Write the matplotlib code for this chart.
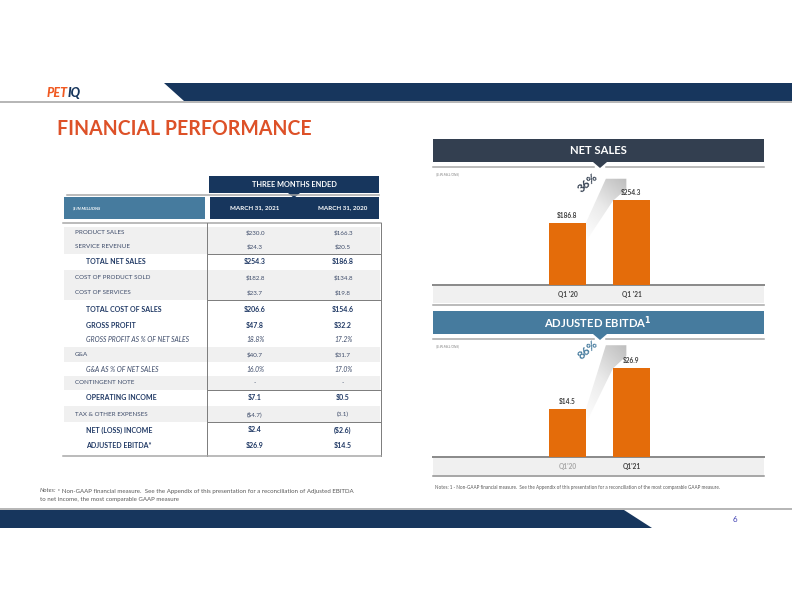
import matplotlib
matplotlib.use("Agg")
import matplotlib.pyplot as plt
import numpy as np
from matplotlib.patches import Polygon, Rectangle
from matplotlib.colors import LinearSegmentedColormap

plt.rcParams["font.family"] = ["Lato", "DejaVu Sans"]

# data
row_labels = ["PRODUCT SALES", "SERVICE REVENUE", "TOTAL NET SALES",
              "COST OF PRODUCT SOLD", "COST OF SERVICES", "TOTAL COST OF SALES",
              "GROSS PROFIT", "GROSS PROFIT AS % OF NET SALES", "G&A",
              "G&A AS % OF NET SALES", "CONTINGENT NOTE", "OPERATING INCOME",
              "TAX & OTHER EXPENSES", "NET (LOSS) INCOME", "ADJUSTED EBITDA*"]
vals_2021 = ["$230.0", "$24.3", "$254.3", "$182.8", "$23.7", "$206.6", "$47.8",
             "18.8%", "$40.7", "16.0%", "-", "$7.1", "($4.7)", "$2.4", "$26.9"]
vals_2020 = ["$166.3", "$20.5", "$186.8", "$134.8", "$19.8", "$154.6", "$32.2",
             "17.2%", "$31.7", "17.0%", "-", "$0.5", "(3.1)", "($2.6)", "$14.5"]
row_style = ["n", "n", "b", "n", "n", "b", "b", "i", "n", "i", "n", "b", "n", "b", "b"]
col_headers = ["MARCH 31, 2021", "MARCH 31, 2020"]

quarters_sales = ["Q1 '20", "Q1 '21"]
net_sales = [186.8, 254.3]
sales_growth = "36%"

quarters_ebitda = ["Q1'20", "Q1'21"]
adj_ebitda = [14.5, 26.9]
ebitda_growth = "86%"

# colours
navy = "#17365D"
steel = "#467B9E"
slate = "#333F50"
orange = "#E46C0A"
title_c = "#DD5128"
txt = "#3E4C6A"
txt_b = "#1F3864"
gray_bg = "#F0F0F0"

W, H = 792, 612
fig = plt.figure(figsize=(W / 72, H / 72), dpi=72)
ax = fig.add_axes([0, 0, 1, 1])
ax.set_xlim(0, W)
ax.set_ylim(H, 0)
ax.axis("off")
renderer = fig.canvas.get_renderer()


def px_axes(x0, y0, x1, y1):
    return fig.add_axes([x0 / W, 1 - y1 / H, (x1 - x0) / W, (y1 - y0) / H])


def text_after(t, s, gap=0, **kw):
    # place s right after text t (pixel axes coords)
    bb = t.get_window_extent(renderer)
    x = ax.transData.inverted().transform((bb.x1, 0))[0] + gap
    return ax.text(x, t.get_position()[1], s, **kw)


# top banner
ax.plot([0, W], [102, 102], color="#A0A0A0", lw=1.5)
ax.add_patch(Polygon([(164, 83), (W, 83), (W, 101), (184, 101)], color=navy, lw=0))
t = ax.text(47, 93, "PET", color="#F05A22", fontsize=12.5, fontweight="black",
            style="italic", va="center")
text_after(t, "IQ", gap=-0.5, color=navy, fontsize=12.5, fontweight="black",
           style="italic", va="center")

ax.text(57, 129, "FINANCIAL PERFORMANCE", color=title_c, fontsize=19.5,
        fontweight="bold", va="center")

# table header
ax.add_patch(Rectangle((209, 176), 170, 17, color=navy, lw=0))
ax.text(294, 184.5, "THREE MONTHS ENDED", color="white", fontsize=7.4,
        fontweight="bold", ha="center", va="center")
ax.plot([67, 379], [194.5, 194.5], color="#A6A6A6", lw=1.5)
ax.add_patch(Polygon([(288, 193), (300, 193), (294, 198)], color=navy, lw=0))
ax.add_patch(Rectangle((64, 197), 141, 22, color=steel, lw=0))
ax.text(73, 208, "$ IN MILLIONS", color="white", fontsize=4.2,
        fontweight="bold", style="italic", va="center")
ax.add_patch(Rectangle((210, 197), 169, 22, color=navy, lw=0))
col_x = [255, 343]
for cx, h in zip(col_x, col_headers):
    ax.text(cx, 208, h, color="white", fontsize=6.2, fontweight="bold",
            ha="center", va="center")
ax.plot([63, 381], [223, 223], color="#A6A6A6", lw=1.5)

# table body
row_edges = [227, 239, 254, 270, 285, 300, 318, 333, 347, 362, 376, 390, 406, 422, 438, 454]
sep_rows = [2, 5, 11, 13]
for i, lab in enumerate(row_labels):
    y0, y1 = row_edges[i], row_edges[i + 1]
    yc = (y0 + y1) / 2
    st = row_style[i]
    if st == "n":
        ax.add_patch(Rectangle((64, y0), 316, y1 - y0, color=gray_bg, lw=0))
    if st == "b":
        kw = dict(fontsize=7.0, fontweight="bold", color=txt_b)
        lx = 86
    elif st == "i":
        kw = dict(fontsize=6.8, style="italic", color=txt)
        lx = 86
    else:
        kw = dict(fontsize=6.3, color=txt)
        lx = 75
    ax.text(lx, yc, lab, va="center", **kw)
    ax.text(col_x[0], yc, vals_2021[i], ha="center", va="center", **kw)
    ax.text(col_x[1], yc, vals_2020[i], ha="center", va="center", **kw)
    if i in sep_rows:
        ax.plot([207, 381], [y0, y0], color="#7F7F7F", lw=1)
ax.plot([207, 207], [223, 456], color="#7F7F7F", lw=1)
ax.plot([381, 381], [223, 456], color="#7F7F7F", lw=1)
ax.plot([63, 381], [456, 456], color="#A6A6A6", lw=1.5)

t = ax.text(40, 491, "Notes:", fontsize=6.1, style="italic", color="#595959", va="center")
text_after(t, " * Non-GAAP financial measure.  See the Appendix of this presentation "
           "for a reconciliation of Adjusted EBITDA", fontsize=6.1, color="#595959",
           va="center")
ax.text(40, 499, "to net income, the most comparable GAAP measure", fontsize=6.1,
        color="#595959", va="center")

# footer
ax.plot([0, W], [509, 509], color="#A0A0A0", lw=1.5)
ax.add_patch(Polygon([(0, 510), (624, 510), (652, 528), (0, 528)], color=navy, lw=0))
ax.text(735, 520, "6", color="#3A3AB0", fontsize=8, ha="center", va="center")


def panel(top, head, head_c):
    ax.add_patch(Rectangle((433, top), 331, 23, color=head_c, lw=0))
    ax.text(598, top + 12, head, color="white", fontsize=11.2, fontweight="bold",
            ha="center", va="center")
    ax.plot([433, 594], [top + 28, top + 28], color="#A6A6A6", lw=1.5)
    ax.plot([606, 764], [top + 28, top + 28], color="#A6A6A6", lw=1.5)
    ax.add_patch(Polygon([(593, top + 23), (607, top + 23), (600, top + 29)],
                         color=head_c, lw=0))
    ax.text(436, top + 35, "($ IN MILLIONS)", fontsize=3.4, style="italic",
            color="#7F7F7F", va="center")


grad_cmap = LinearSegmentedColormap.from_list("g", ["#FFFFFF", "#EAEAEA", "#BDBDBD"])


def bar_chart(box, cats, vals, ymax, pct, pct_c, tick_cols):
    bx = px_axes(*box)
    x = np.arange(len(vals))
    bx.axis("off")
    # growth band from first bar top toward above second bar
    v0, v1 = vals
    top = v1 * 1.25
    low = v0 * 0.7
    poly = [(0.29, v0), (0.6, top), (0.92, top), (0.92, v1 * 1.13),
            (0.71, v1 * 0.99), (0.29, low)]
    gx, gy = np.meshgrid(np.linspace(0, 1, 120), np.linspace(0, 1, 120))
    img = bx.imshow(0.35 * gx + 0.65 * gy, extent=(0.29, 0.92, low, top), origin="lower",
                    cmap=grad_cmap, aspect="auto", zorder=1)
    clip = Polygon(poly, transform=bx.transData, facecolor="none", edgecolor="none")
    bx.add_patch(clip)
    img.set_clip_path(clip)
    bx.set_xlim(-2.1, 3.07)
    bx.set_ylim(0, ymax)
    bars = bx.bar(x, vals, width=0.57, color=orange, zorder=2)
    for b, v in zip(bars, vals):
        bx.annotate(f"${v:.1f}", (b.get_x() + b.get_width() / 2, v), xytext=(0, 7.5),
                    textcoords="offset points", ha="center", va="center",
                    fontsize=6.5, fontweight="bold", color="#404040")
    bx.text(0.32, v1 * 1.2, pct, rotation=42, fontsize=11.5, fontweight="bold",
            color=pct_c, ha="center", va="center", zorder=5)
    # baseline & category band
    y_base = box[3]
    ax.add_patch(Rectangle((433, y_base), 331, 18, color="#F0F0F0", lw=0))
    ax.plot([433, 764], [y_base, y_base], color="#8C8C8C", lw=2)
    for xi, c, tc in zip(x, cats, tick_cols):
        px = ax.transData.inverted().transform(bx.transData.transform((xi, 0)))[0]
        ax.text(px, y_base + 9.5, c, ha="center", va="center", fontsize=6.5,
                fontweight="bold", color=tc)


panel(139, "NET SALES", slate)
bar_chart((433, 167, 764, 285), quarters_sales, net_sales, 353, sales_growth, slate,
          ["#404040", "#404040"])
ax.plot([433, 764], [305, 305], color="#A6A6A6", lw=1.5)

panel(311, "ADJUSTED EBITDA$^\\mathbf{1}$", steel)
bar_chart((433, 339, 764, 457), quarters_ebitda, adj_ebitda, 35.5, ebitda_growth, steel,
          ["#A6A6A6", "#404040"])
ax.plot([433, 764], [476, 476], color="#8C8C8C", lw=1.5)

ax.text(435, 487, "Notes: 1 - Non-GAAP financial measure.  See the Appendix of this "
        "presentation for a reconciliation of the most comparable GAAP measure.",
        fontsize=4.6, color="#595959", va="center")

fig.savefig("out.png", dpi=72)
